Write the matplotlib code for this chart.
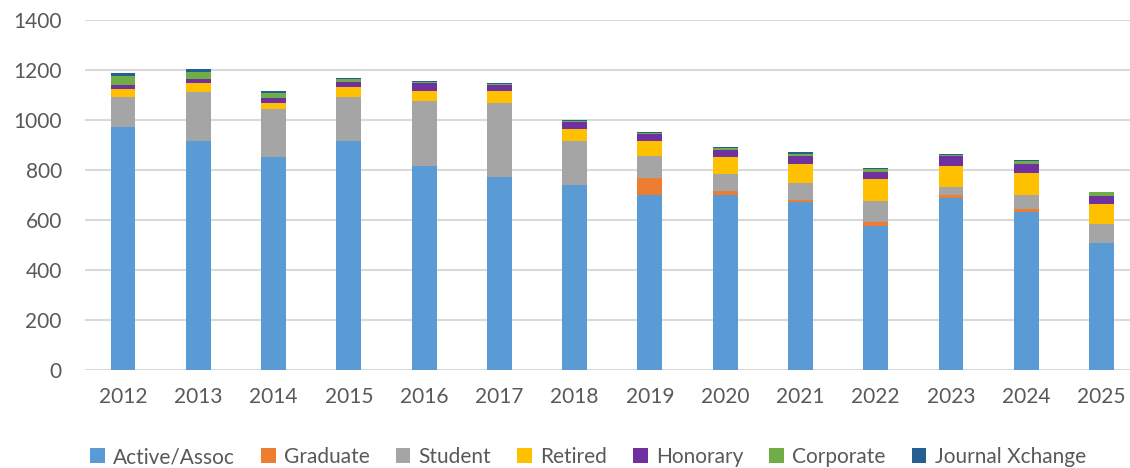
import matplotlib
matplotlib.use("Agg")
import matplotlib.pyplot as plt
import numpy as np

years = ["2012", "2013", "2014", "2015", "2016", "2017", "2018",
         "2019", "2020", "2021", "2022", "2023", "2024", "2025"]
active = [971, 917, 853, 917, 816, 771, 739, 700, 700, 672, 577, 689, 631, 509]
graduate = [0, 0, 0, 0, 0, 0, 0, 69, 16, 8, 16, 11, 13, 0]
student = [120, 194, 191, 174, 260, 298, 177, 87, 68, 67, 84, 31, 56, 75]
retired = [33, 36, 23, 40, 41, 48, 47, 60, 69, 76, 86, 85, 87, 79]
honorary = [16, 18, 20, 20, 30, 23, 30, 28, 27, 33, 30, 41, 36, 33]
corporate = [37, 27, 21, 12, 5, 6, 5, 6, 8, 10, 10, 5, 14, 15]
journal = [10, 11, 7, 5, 3, 3, 3, 3, 5, 5, 4, 3, 2, 2]

series_names = ["Active/Assoc", "Graduate", "Student", "Retired",
                "Honorary", "Corporate", "Journal Xchange"]
series_vals = [active, graduate, student, retired, honorary, corporate, journal]
colors = ["#5B9BD5", "#ED7D31", "#A5A5A5", "#FFC000", "#7030A0", "#70AD47", "#255E91"]

plt.rcParams['font.family'] = ['Lato', 'DejaVu Sans']
W, H = 1130, 468
fig = plt.figure(figsize=(W / 100, H / 100), dpi=100)
left, right, top, bottom = 85.4, 1130, 20, 370
ax = fig.add_axes([left / W, 1 - bottom / H, (right - left) / W, (bottom - top) / H])

x = np.arange(len(years))
base = np.zeros(len(years))
for name, vals, c in zip(series_names, series_vals, colors):
    ax.bar(x, vals, width=0.33, bottom=base, color=c, label=name, zorder=3)
    base += np.array(vals)

ax.set_ylim(0, 1400)
slot = (1101.5 - 123) / 13
ax.set_xlim(-0.5, -0.5 + (right - left) / slot)
ax.set_yticks(range(0, 1401, 200))
ax.set_xticks(x)
ax.set_xticklabels(years)
ax.yaxis.grid(True, color="#D9D9D9", linewidth=1.5, zorder=0)
for s in ax.spines.values():
    s.set_visible(False)
ax.tick_params(axis='both', length=0, labelsize=15, colors="#595959")
ax.tick_params(axis='y', pad=17)
ax.tick_params(axis='x', pad=12)

leg = fig.legend(loc="center", bbox_to_anchor=(588 / W, 1 - 457 / H), ncol=7,
                 frameon=False, fontsize=15, handlelength=0.7, handleheight=0.7,
                 handletextpad=0.4, columnspacing=1.25, labelcolor="#595959")

fig.savefig("out.png", dpi=100)
